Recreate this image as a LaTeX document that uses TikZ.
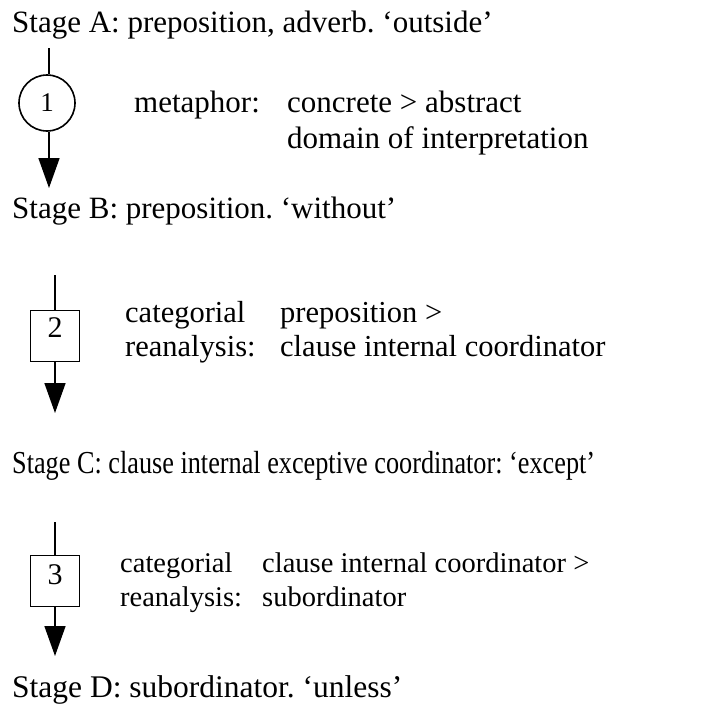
\documentclass[tikz,border=0pt]{standalone}
\usepackage{fontspec}
\setmainfont{Liberation Serif}
\usetikzlibrary{arrows.meta}
\frenchspacing
\tikzset{
  txt/.style={anchor=base west, inner sep=0pt, font=\fontsize{31}{34}\selectfont},
  txtb/.style={txt, font=\fontsize{30.5}{34}\selectfont},
  txtc/.style={txt, font=\fontsize{28.5}{32}\selectfont},
  stagetxt/.style={txt},
  numcircle/.style={draw, line width=1.6pt, circle, minimum size=56pt, inner sep=0pt, font=\fontsize{27}{30}\selectfont},
  numbox/.style={draw, line width=1.6pt, rectangle, minimum width=49pt, minimum height=51pt, inner sep=0pt},
  digit/.style={inner sep=0pt, font=\fontsize{30}{32}\selectfont},
  link/.style={line width=1.6pt},
  flow/.style={line width=1.6pt, -{Triangle[length=30pt, width=21pt]}},
}
\begin{document}
\begin{tikzpicture}[x=1pt, y=-1pt]
\useasboundingbox (0,0) rectangle (701,715);

% Stage A and the metaphorical shift
\node[stagetxt] (sa) at (12,32) {Stage A: preposition, adverb. ‘outside’};
\coordinate (t1) at (49,48);
\node[numcircle] (n1) at (47,103) {1};
\coordinate (e1) at (49,188);
\draw[link] (t1) -- (t1 |- n1.north);
\draw[flow] (t1 |- n1.south) -- (e1);
\node[txt] (m1) at (134,112) {metaphor:};
\node[txt] (m2) at (287,112) {concrete > abstract};
\node[txt] (m3) at (287,148) {domain of interpretation};

% Stage B and the first reanalysis
\node[stagetxt] (sb) at (12,218) {Stage B: preposition. ‘without’};
\coordinate (t2) at (55,275);
\node[numbox] (n2) at (55,336) {};
\node[digit] (d2) at ([yshift=8pt]n2.center) {2};
\coordinate (e2) at (55,413);
\draw[link] (t2) -- (n2);
\draw[flow] (n2) -- (e2);
\node[txtb] (c2a) at (125,322) {categorial};
\node[txtb] (c2b) at (280,322) {preposition >};
\node[txtb] (r2a) at (125,356) {reanalysis:};
\node[txtb] (r2b) at (280,356) {clause internal coordinator};

% Stage C and the second reanalysis
\node[stagetxt] (sc) at (12,473) {\scalebox{0.82}[1]{\fontsize{32}{34}\selectfont Stage C: clause internal exceptive coordinator: ‘except’}};
\coordinate (t3) at (55,522);
\node[numbox] (n3) at (55,581) {};
\node[digit] (d3) at ([yshift=6pt]n3.center) {3};
\coordinate (e3) at (55,656);
\draw[link] (t3) -- (n3);
\draw[flow] (n3) -- (e3);
\node[txtc] (c3a) at (120,572) {categorial};
\node[txtc] (c3b) at (262,572) {clause internal coordinator >};
\node[txtc] (r3a) at (120,606) {reanalysis:};
\node[txtc] (r3b) at (262,606) {subordinator};

% Stage D
\node[stagetxt, font=\fontsize{31.5}{34}\selectfont] (sd) at (12,697) {Stage D: subordinator. ‘unless’};
\end{tikzpicture}
\end{document}
